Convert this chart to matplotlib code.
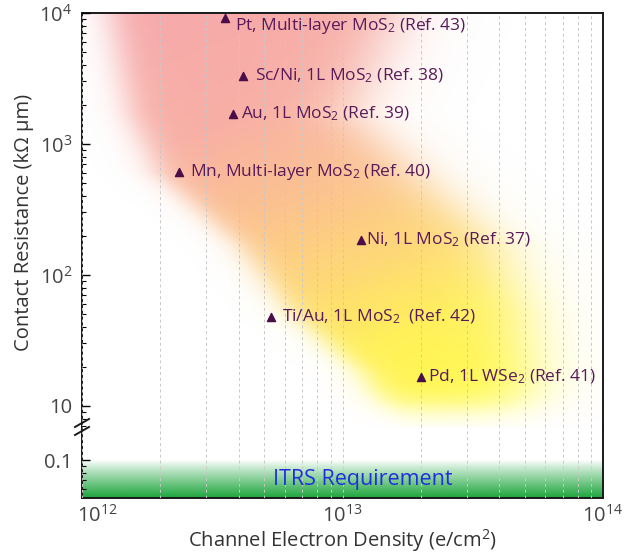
import numpy as np
import matplotlib
matplotlib.use("Agg")
import matplotlib.pyplot as plt
from matplotlib.lines import Line2D
from matplotlib.transforms import ScaledTranslation
from matplotlib.ticker import LogLocator, NullFormatter, FixedLocator, FixedFormatter

plt.rcParams['font.family'] = ['Open Sans', 'DejaVu Sans']
plt.rcParams['mathtext.fontset'] = 'custom'
plt.rcParams['mathtext.rm'] = 'Open Sans'
plt.rcParams['mathtext.it'] = 'Open Sans:italic'
plt.rcParams['mathtext.bf'] = 'Open Sans:bold'

# ---- data ----
labels = [
    "Pt, Multi-layer MoS$_2$ (Ref. 43)",
    "Sc/Ni, 1L MoS$_2$ (Ref. 38)",
    "Au, 1L MoS$_2$ (Ref. 39)",
    "Mn, Multi-layer MoS$_2$ (Ref. 40)",
    "Ni, 1L MoS$_2$ (Ref. 37)",
    "Ti/Au, 1L MoS$_2$  (Ref. 42)",
    "Pd, 1L WSe$_2$ (Ref. 41)",
]
density = [3.54e12, 4.15e12, 3.8e12, 2.36e12, 1.18e13, 5.3e12, 2.0e13]
resistance = [9200, 3300, 1700, 610, 185, 48, 16.6]
itrs_req = 0.1
itrs_label = "ITRS Requirement"

label_offsets = [(7, -6), (8.5, 0), (5.5, 0), (8, 0), (3.5, 0), (8.5, 0), (5, 0)]

W, H = 634, 556
fig = plt.figure(figsize=(W / 100, H / 100), dpi=100)

L, R = 82, 603
T, BRK, B = 13, 427, 498
def fx(p): return p / W
def fy(p): return 1 - p / H

ax = fig.add_axes([fx(L), fy(BRK), fx(R) - fx(L), fy(T) - fy(BRK)])
ax2 = fig.add_axes([fx(L), fy(B), fx(R) - fx(L), fy(BRK) - fy(B)], sharex=ax)

xlim = (1e12, 1e14)
for a in (ax, ax2):
    a.set_xscale('log')
    a.set_yscale('log')
    a.set_xlim(*xlim)
ax.set_ylim(6.91, 1e4)
ax2.set_ylim(0.0513, 0.1787)

# ---- gradient band in upper axes (decorative) ----
nx, ny = 521, 414
gx = np.linspace(L, R, nx)
gy = np.linspace(T, BRK, ny)
GX, GY = np.meshgrid(gx, gy)
ky = [13, 113, 173, 246, 313, 373, 430]
left_e = np.interp(GY, ky, [110, 130, 158, 240, 292, 362, 400])
right_e = np.interp(GY, ky, [395, 350, 415, 495, 522, 530, 515])
def sig(z): return 1 / (1 + np.exp(-z))
alpha = sig((GX - left_e) / 11) * sig((right_e - GX) / 22) * sig((408 - GY) / 8)
t = np.clip((0.4 * (GX - 82) + (GY - 13)) / 560, 0, 1)
ct = [0, 0.3, 0.5, 0.65, 0.8, 1.0]
cr = [246, 248, 252, 254, 255, 255]
cg = [168, 176, 196, 216, 240, 252]
cb = [172, 165, 142, 118, 90, 70]
img = np.zeros((ny, nx, 4))
img[..., 0] = np.interp(t, ct, cr) / 255
img[..., 1] = np.interp(t, ct, cg) / 255
img[..., 2] = np.interp(t, ct, cb) / 255
img[..., 3] = alpha
ax.imshow(img, extent=(0, 1, 0, 1), transform=ax.transAxes, aspect='auto',
          origin='upper', zorder=0, interpolation='bilinear')

# ---- green ITRS band in lower axes ----
ylo, yhi = ax2.get_ylim()
ftop = (np.log10(itrs_req) - np.log10(ylo)) / (np.log10(yhi) - np.log10(ylo))
g = np.linspace(0, 1, 200)[:, None] * np.ones((1, 2))
gimg = np.zeros((200, 2, 4))
gimg[..., 0] = 28 / 255
gimg[..., 1] = 165 / 255
gimg[..., 2] = 60 / 255
gimg[..., 3] = np.clip(1.0 - g, 0, 1) ** 0.9
ax2.imshow(gimg, extent=(0, 1, 0, ftop), transform=ax2.transAxes, aspect='auto',
           origin='lower', zorder=0, interpolation='bilinear')
ax2.text(1.2e13, 0.0705, itrs_label, color='#1f2fe0', fontsize=15.5,
         ha='center', va='center', zorder=5)

# ---- grid ----
for a in (ax, ax2):
    a.xaxis.set_major_locator(LogLocator(base=10, numticks=10))
    a.xaxis.set_minor_locator(LogLocator(base=10, subs=np.arange(2, 10), numticks=20))
    a.grid(True, which='both', axis='x', color='#c8c8c8', linestyle=(0, (3, 3)), linewidth=0.7)
    a.set_axisbelow(False)
    a.tick_params(axis='x', which='both', length=0)

# ---- points ----
ax.scatter(density, resistance, marker='^', s=34, color='#4a0c4a', zorder=6, clip_on=False)
for xv, yv, lab, off in zip(density, resistance, labels, label_offsets):
    ax.annotate(lab, (xv, yv), xytext=off, textcoords='offset points',
                ha='left', va='center', fontsize=12.5, color='#5a1a5a', zorder=6)

# ---- spines & ticks ----
lw = 1.4
ax.spines['bottom'].set_visible(False)
ax2.spines['top'].set_visible(False)
for a in (ax, ax2):
    for s in a.spines.values():
        s.set_linewidth(lw)
        s.set_color('#1a1a1a')
ax.tick_params(axis='x', labelbottom=False)
ax.yaxis.set_major_locator(FixedLocator([10, 100, 1000, 10000]))
ax.yaxis.set_major_formatter(FixedFormatter(['10', '10$^2$', '10$^3$', '10$^4$']))
ax.yaxis.set_minor_locator(LogLocator(base=10, subs=np.arange(2, 10), numticks=20))
ax.yaxis.set_minor_formatter(NullFormatter())
ax2.yaxis.set_major_locator(FixedLocator([0.1]))
ax2.yaxis.set_major_formatter(FixedFormatter(['0.1']))
ax2.yaxis.set_minor_locator(LogLocator(base=10, subs=np.arange(2, 10), numticks=20))
ax2.yaxis.set_minor_formatter(NullFormatter())
for a in (ax, ax2):
    a.tick_params(axis='y', which='major', direction='in', length=6, width=1.0,
                  labelsize=14.5, labelcolor='#444444', pad=7)
    a.tick_params(axis='y', which='minor', direction='in', length=3, width=0.8)
ax2.set_xticks([1e12, 1e13, 1e14])
ax2.set_xticklabels(['10$^{12}$', '10$^{13}$', '10$^{14}$'])
ax2.tick_params(axis='x', labelsize=14.5, labelcolor='#444444', pad=5)
first = ax2.get_xticklabels()[0]
first.set_ha('left')
first.set_transform(first.get_transform() + ScaledTranslation(-5 / 100, 0, fig.dpi_scale_trans))

ax2.set_xlabel('Channel Electron Density (e/cm$^2$)', fontsize=14.5, color='#333333', labelpad=0)
fig.text(fx(24), fy(222), 'Contact Resistance (kΩ μm)', rotation=90, fontsize=14.5,
         color='#333333', ha='center', va='center')

# break marks
for dy in (-4, 4):
    y0 = BRK + dy
    fig.add_artist(Line2D([fx(L - 7), fx(L + 7)], [fy(y0 + 4), fy(y0 - 4)],
                          color='#1a1a1a', linewidth=1.4))

fig.savefig('out.png', dpi=100)
